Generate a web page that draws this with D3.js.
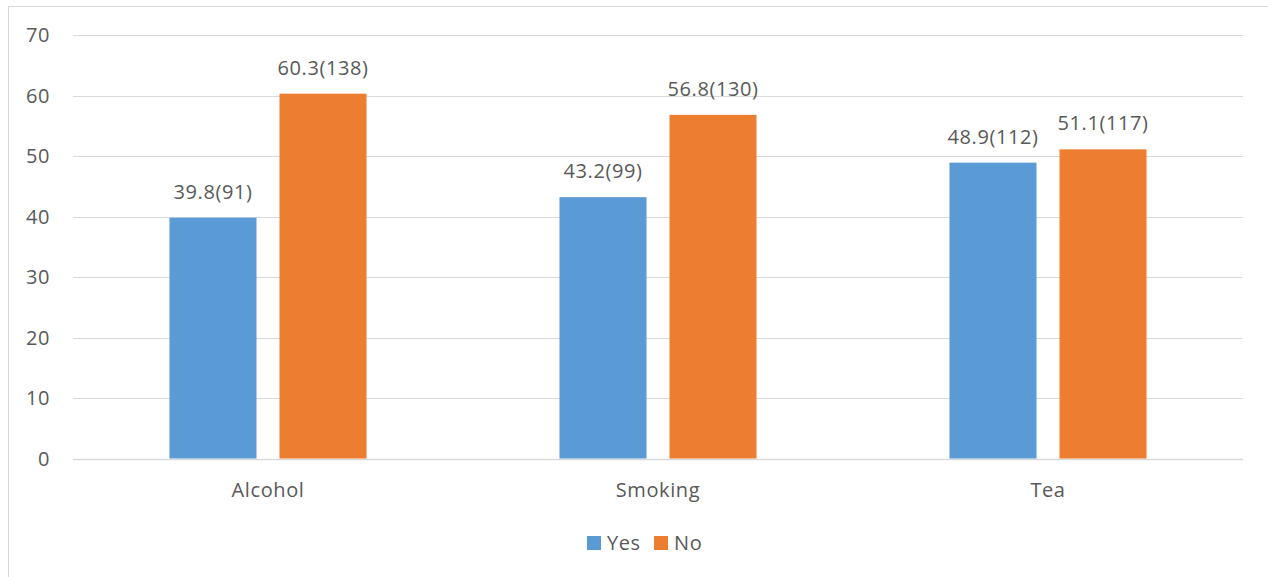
<!DOCTYPE html>
<html>
<head>
<meta charset="utf-8">
<script src="https://cdn.jsdelivr.net/npm/d3@7"></script>
<style>
  html, body { margin: 0; padding: 0; background: #fff; }
  svg { display: block; }
  text { font-family: "Open Sans", "Noto Sans", sans-serif; fill: #595959; }
  .wide { letter-spacing: 0.6px; }
</style>
</head>
<body>
<svg id="chart" width="1268" height="577"></svg>
<script>
// Share (%) and counts per habit group
const categories = ["Alcohol", "Smoking", "Tea"];
const seriesNames = ["Yes", "No"];
const yesValues = [39.8, 43.2, 48.9];
const noValues = [60.3, 56.8, 51.1];
const yesCounts = [91, 99, 112];
const noCounts = [138, 130, 117];
const yTicks = [0, 10, 20, 30, 40, 50, 60, 70];
const colors = ["#5B9BD5", "#ED7D31"];

const rows = categories.map((c, i) => ({
  category: c,
  values: [
    { series: "Yes", value: yesValues[i], count: yesCounts[i] },
    { series: "No", value: noValues[i], count: noCounts[i] }
  ]
}));

const svg = d3.select("#chart");

// outer chart frame
svg.append("rect")
  .attr("x", 8.5).attr("y", 6.5)
  .attr("width", 1300).attr("height", 600)
  .attr("fill", "none").attr("stroke", "#d9d9d9").attr("stroke-width", 1);

const plot = { left: 73, right: 1243, top: 35, bottom: 458.5 };

const x0 = d3.scaleBand().domain(categories).range([plot.left, plot.right]).padding(0);
const x1 = d3.scaleBand().domain(seriesNames).range([0, x0.bandwidth()])
  .paddingInner(0.209).paddingOuter(0.877);
const y = d3.scaleLinear().domain([0, 70]).range([plot.bottom, plot.top]);
const color = d3.scaleOrdinal().domain(seriesNames).range(colors);

// horizontal gridlines
svg.append("g").selectAll("line").data(yTicks).join("line")
  .attr("x1", plot.left).attr("x2", plot.right)
  .attr("y1", d => Math.round(y(d)) + 0.5).attr("y2", d => Math.round(y(d)) + 0.5)
  .attr("stroke", "#d9d9d9").attr("stroke-width", d => d === 0 ? 1.5 : 1.2);

// y tick labels
svg.append("g").selectAll("text").data(yTicks).join("text")
  .attr("class", "wide")
  .attr("x", 50).attr("y", d => y(d))
  .attr("dy", "0.35em")
  .attr("text-anchor", "end")
  .attr("font-size", 20)
  .text(d => d);

// bars
const groups = svg.append("g").selectAll("g").data(rows).join("g")
  .attr("transform", d => `translate(${x0(d.category)},0)`);

groups.selectAll("rect").data(d => d.values).join("rect")
  .attr("x", d => x1(d.series))
  .attr("width", x1.bandwidth())
  .attr("y", d => y(d.value))
  .attr("height", d => y(0) - y(d.value))
  .attr("fill", d => color(d.series));

// value labels: percent(count)
groups.selectAll("text").data(d => d.values).join("text")
  .attr("class", "wide")
  .attr("x", d => x1(d.series) + x1.bandwidth() / 2)
  .attr("y", d => y(d.value) - 19)
  .attr("text-anchor", "middle")
  .attr("font-size", 20)
  .text(d => `${d.value.toFixed(1)}(${d.count})`);

// category labels
svg.append("g").selectAll("text").data(categories).join("text")
  .attr("class", "wide")
  .attr("x", d => x0(d) + x0.bandwidth() / 2)
  .attr("y", 497)
  .attr("text-anchor", "middle")
  .attr("font-size", 20)
  .text(d => d);

// legend
const legendItems = [
  { name: "Yes", sx: 587, tx: 607 },
  { name: "No", sx: 654, tx: 674 }
];
const legend = svg.append("g");
legend.selectAll("rect").data(legendItems).join("rect")
  .attr("x", d => d.sx).attr("y", 536)
  .attr("width", 14).attr("height", 14)
  .attr("fill", d => color(d.name));
legend.selectAll("text").data(legendItems).join("text")
  .attr("class", "wide")
  .attr("x", d => d.tx).attr("y", 550)
  .attr("font-size", 20)
  .text(d => d.name);
</script>
</body>
</html>
